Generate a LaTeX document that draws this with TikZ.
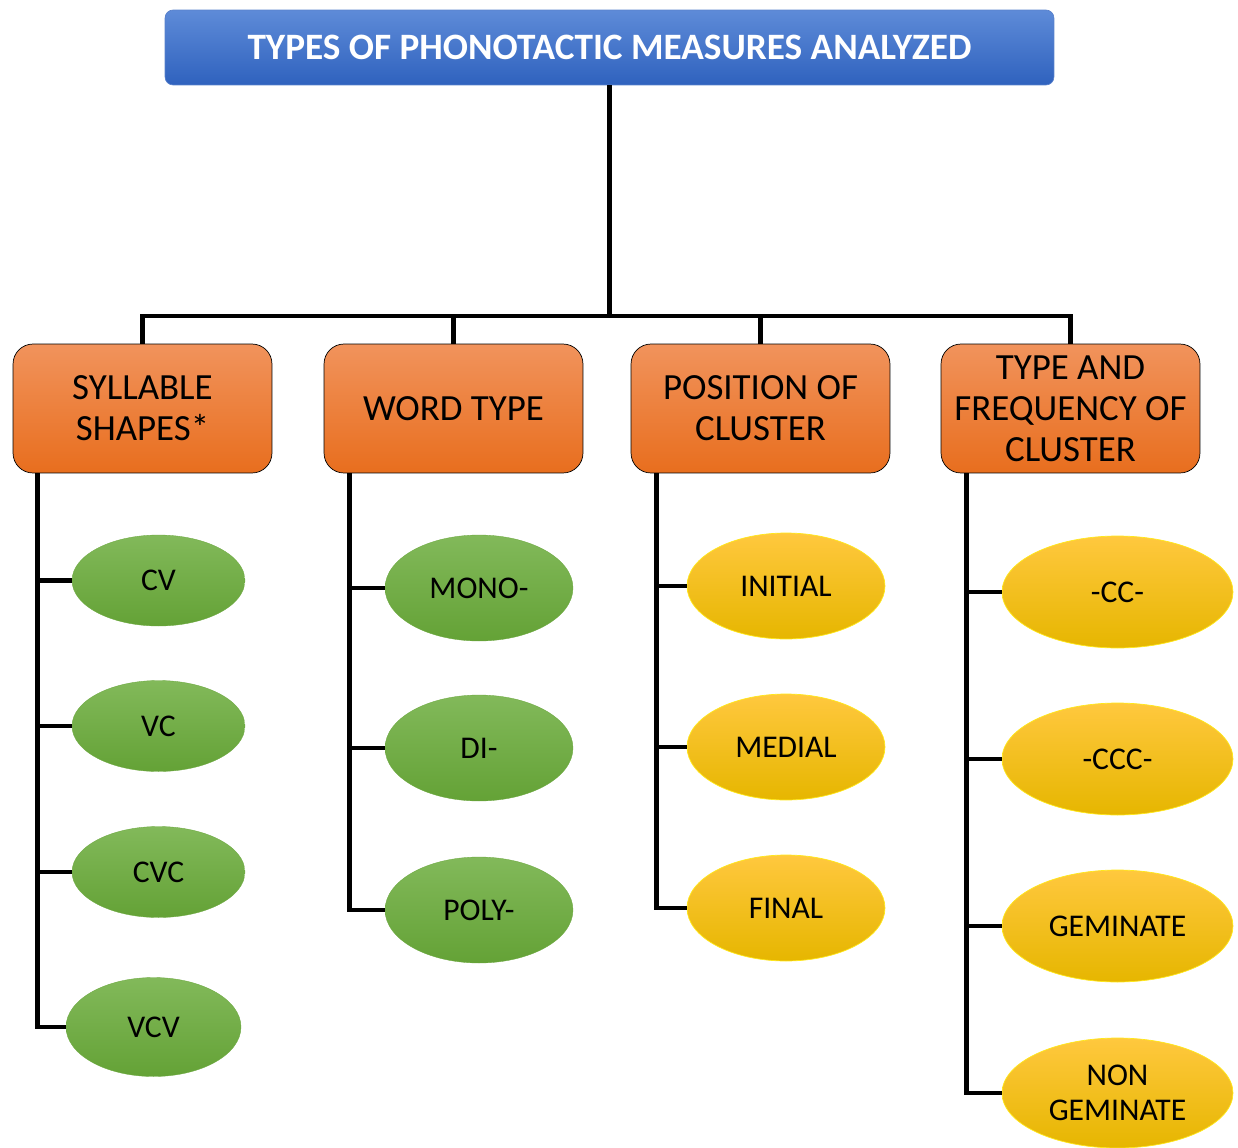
\documentclass[tikz,border=0pt]{standalone}
\usepackage{fontspec}
\setmainfont{Carlito}
\usetikzlibrary{shapes.geometric}
\definecolor{titletop}{HTML}{5E8BD8}
\definecolor{titlebot}{HTML}{2F62BE}
\definecolor{orangetop}{HTML}{F1935C}
\definecolor{orangebot}{HTML}{E86E1E}
\definecolor{greentop}{HTML}{82B95A}
\definecolor{greenbot}{HTML}{64A236}
\definecolor{yellowtop}{HTML}{FFC83E}
\definecolor{yellowbot}{HTML}{E6B600}
\definecolor{yellowrim}{HTML}{FFE81A}
\tikzset{
	   titlebox/.style = {rectangle, rounded corners=0.16cm, top color=titletop, bottom color=titlebot,
	                      draw=titlebot!80!white, thin, minimum width=17.78cm, minimum height=1.5cm,
	                      text=white, font=\fontsize{21.2}{25}\selectfont\bfseries},
	    catbox/.style = {rectangle, rounded corners=0.4cm, top color=orangetop, bottom color=orangebot,
	                      draw=black, thin, minimum width=5.18cm, minimum height=2.58cm,
	                      align=center, inner sep=0pt, font=\fontsize{21}{23.3}\selectfont},
	  greenleaf/.style = {ellipse, top color=greentop, bottom color=greenbot, draw=greenbot!70!greentop,
	                      very thin, inner sep=0pt, font=\fontsize{18}{20}\selectfont},
	 yellowleaf/.style = {ellipse, top color=yellowtop, bottom color=yellowbot, draw=yellowrim, thin,
	                      inner sep=0pt, align=center, font=\fontsize{18}{20}\selectfont},
	       link/.style = {draw=black, line width=2.3pt},
	     branch/.style = {draw=black, line width=2.8pt}
}
\begin{document}
\begin{tikzpicture}[x=0.02cm, y=-0.02cm]
		\useasboundingbox (0,0) rectangle (1238,1147);
		% top and category boxes
		\node[titlebox] (title) at (609.5, 47.5) {TYPES OF PHONOTACTIC MEASURES ANALYZED};
		\node[catbox] (syl)  at ( 142.5, 408.5) {SYLLABLE\\SHAPES*};
		\node[catbox] (word) at ( 453.5, 408.5) {WORD TYPE};
		\node[catbox] (pos)  at ( 760.5, 408.5) {POSITION OF\\CLUSTER};
		\node[catbox] (freq) at (1070.5, 408.5) {TYPE AND\\FREQUENCY OF\\CLUSTER};
		% syllable shapes
		\node[greenleaf, minimum width=3.46cm, minimum height=1.82cm] (cv)  at (158.5, 580.5) {CV};
		\node[greenleaf, minimum width=3.46cm, minimum height=1.82cm] (vc)  at (158.5, 726)   {VC};
		\node[greenleaf, minimum width=3.46cm, minimum height=1.82cm] (cvc) at (158.5, 872)   {CVC};
		\node[greenleaf, minimum width=3.5cm,  minimum height=1.98cm] (vcv) at (153.5, 1027)  {VCV};
		% word types
		\node[greenleaf, minimum width=3.76cm, minimum height=2.12cm] (mono) at (479, 588) {MONO-};
		\node[greenleaf, minimum width=3.76cm, minimum height=2.12cm] (di)   at (479, 748) {DI-};
		\node[greenleaf, minimum width=3.76cm, minimum height=2.12cm] (poly) at (479, 910) {POLY-};
		% positions
		\node[yellowleaf, minimum width=3.96cm, minimum height=2.12cm] (init) at (786, 586) {INITIAL};
		\node[yellowleaf, minimum width=3.96cm, minimum height=2.12cm] (med)  at (786, 747) {MEDIAL};
		\node[yellowleaf, minimum width=3.96cm, minimum height=2.12cm] (fin)  at (786, 908) {FINAL};
		% cluster types
		\node[yellowleaf, minimum width=4.62cm, minimum height=2.24cm] (cc)   at (1117.5, 592)  {-CC-};
		\node[yellowleaf, minimum width=4.62cm, minimum height=2.24cm] (ccc)  at (1117.5, 759)  {-CCC-};
		\node[yellowleaf, minimum width=4.62cm, minimum height=2.24cm] (gem)  at (1117.5, 926)  {GEMINATE};
		\node[yellowleaf, minimum width=4.62cm, minimum height=2.2cm]  (ngem) at (1117.5, 1093) {NON\\GEMINATE};
		% connectors
		\foreach \c in {syl, word, pos, freq}
			\draw[link] (title.south) -- ++(0, 231) -| (\c.north);
		\foreach \e in {cv, vc, cvc, vcv}
			\draw[branch] (syl.south west) ++(25, 0) |- (\e.west);
		\foreach \e in {mono, di, poly}
			\draw[branch] (word.south west) ++(26, 0) |- (\e.west);
		\foreach \e in {init, med, fin}
			\draw[branch] (pos.south west) ++(26, 0) |- (\e.west);
		\foreach \e in {cc, ccc, gem, ngem}
			\draw[branch] (freq.south west) ++(26, 0) |- (\e.west);
	\end{tikzpicture}
\end{document}
